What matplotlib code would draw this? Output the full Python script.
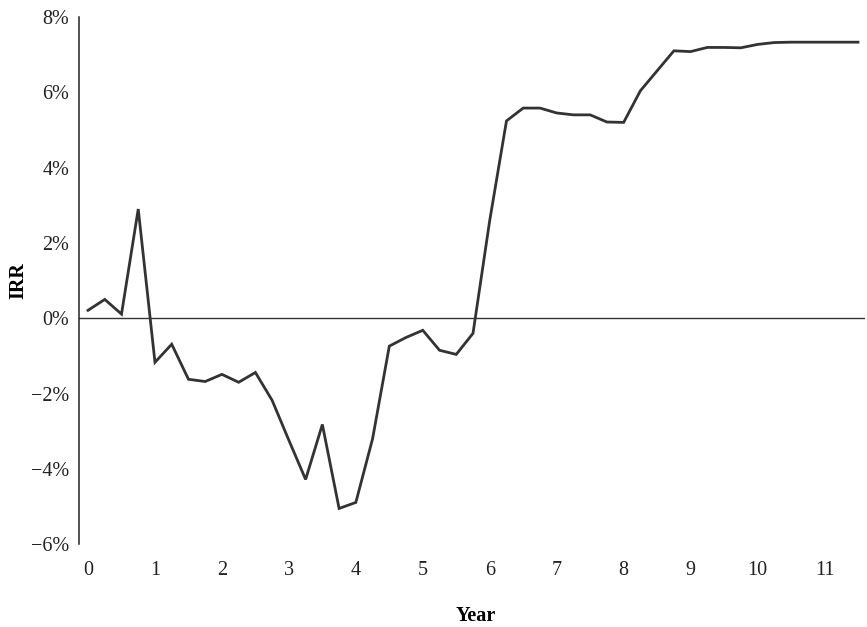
import numpy as np
import matplotlib
matplotlib.use('Agg')
import matplotlib.pyplot as plt

# quarterly observations, years since start
years = np.arange(47) * 0.25
irr = [0.21, 0.50, 0.11, 2.90, -1.17, -0.69, -1.62, -1.68, -1.49, -1.70,
       -1.44, -2.18, -3.24, -4.28, -2.82, -5.05, -4.89, -3.20, -0.74, -0.51,
       -0.32, -0.85, -0.96, -0.40, 2.60, 5.24, 5.58, 5.58, 5.45, 5.40,
       5.40, 5.21, 5.20, 6.04, 6.57, 7.10, 7.08, 7.19, 7.19, 7.18,
       7.27, 7.32, 7.33, 7.33, 7.33, 7.33, 7.33]

x_ticks = list(range(12))
y_ticks = [-6, -4, -2, 0, 2, 4, 6, 8]
y_labels = ['\u22126%', '\u22124%', '\u22122%', '0%', '2%', '4%', '6%', '8%']

plt.rcParams['font.family'] = ['Liberation Serif', 'DejaVu Serif']

fig = plt.figure(figsize=(8.67, 6.27), dpi=100)
ax = fig.add_axes([0.0911, 0.132, 0.907, 0.841])

ax.plot(years, irr, color='#333333', lw=2.0, solid_joinstyle='miter')
ax.axhline(0, color='#333333', lw=1.0)

ax.set_xlim(-0.135, 11.61)
ax.set_ylim(-6, 8)
ax.set_xticks(x_ticks)
ax.set_yticks(y_ticks)
ax.set_yticklabels(y_labels)

for side in ['top', 'right', 'bottom']:
    ax.spines[side].set_visible(False)
ax.spines['left'].set_color('#222222')
ax.spines['left'].set_linewidth(1.1)

ax.tick_params(axis='both', length=0, labelsize=14.5, colors='#222222')
ax.tick_params(axis='y', pad=7)
ax.tick_params(axis='x', pad=12)

ax.set_xlabel('Year', fontsize=14.5, fontweight='bold', labelpad=17)
ax.xaxis.set_label_coords(0.505, -0.118)
ax.set_ylabel('IRR', fontsize=14.5, fontweight='bold', labelpad=2)

fig.savefig('out.png', dpi=100)
